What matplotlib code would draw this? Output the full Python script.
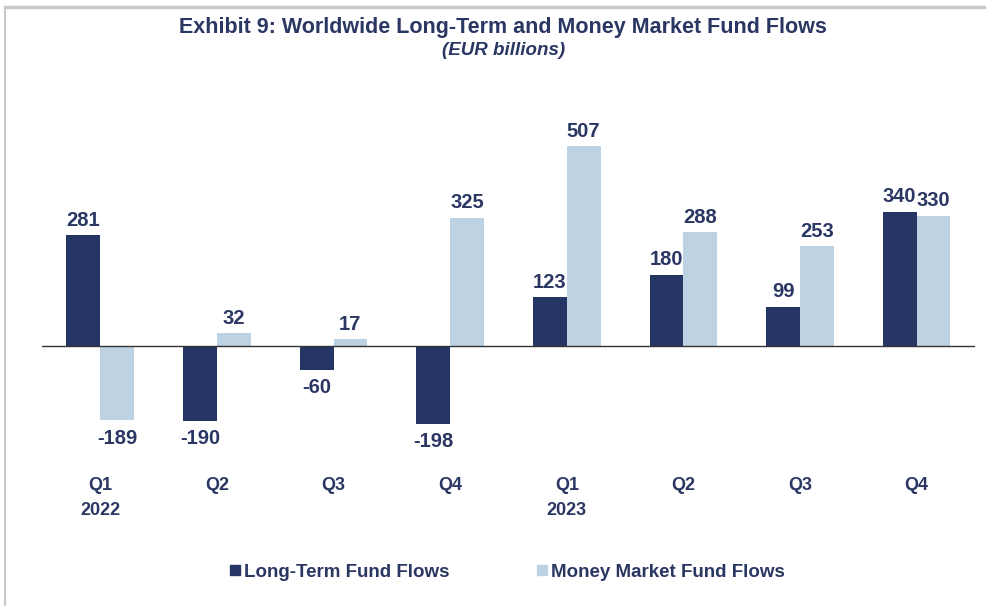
import matplotlib.pyplot as plt
import numpy as np
from matplotlib.lines import Line2D

plt.rcParams["font.family"] = ["Liberation Sans", "DejaVu Sans"]

quarters = ["Q1", "Q2", "Q3", "Q4", "Q1", "Q2", "Q3", "Q4"]
years = ["2022", "", "", "", "2023", "", "", ""]
long_term = [281, -190, -60, -198, 123, 180, 99, 340]
money_market = [-189, 32, 17, 325, 507, 288, 253, 330]

NAVY = "#263664"
LIGHT = "#bdd3e3"
TEXT = "#2b3763"

fig = plt.figure(figsize=(9.87, 6.06), dpi=100)
ax = fig.add_axes([0.0425, 0.2665, 0.9453, 0.5528])

x = np.arange(len(quarters))
w = 0.29
b1 = ax.bar(x - w / 2, long_term, w, color=NAVY, label="Long-Term Fund Flows")
b2 = ax.bar(x + w / 2, money_market, w, color=LIGHT, label="Money Market Fund Flows")

for bars, vals in [(b1, long_term), (b2, money_market)]:
    for bar, v in zip(bars, vals):
        cx = bar.get_x() + bar.get_width() / 2
        if v >= 0:
            ax.annotate(str(v), (cx, v), xytext=(0, 4), textcoords="offset points",
                        ha="center", va="bottom", fontsize=14.5, fontweight="bold", color=TEXT)
        else:
            ax.annotate(str(v), (cx, v), xytext=(0, -6), textcoords="offset points",
                        ha="center", va="top", fontsize=14.5, fontweight="bold", color=TEXT)

ax.axhline(0, color="#333333", linewidth=1)
ax.set_xlim(-0.5, 7.5)
ax.set_ylim(-250, 600)
ax.axis("off")

for i, (q, y) in enumerate(zip(quarters, years)):
    ax.text(i, -0.121, q, transform=ax.get_xaxis_transform(), ha="center", va="center",
            fontsize=13, fontweight="bold", color=TEXT)
    if y:
        ax.text(i, -0.196, y, transform=ax.get_xaxis_transform(), ha="center", va="center",
                fontsize=13, fontweight="bold", color=TEXT)

fig.text(0.51, 0.955, "Exhibit 9: Worldwide Long-Term and Money Market Fund Flows",
         ha="center", va="center", fontsize=15.5, fontweight="bold", color=TEXT)
fig.text(0.51, 0.916, "(EUR billions)", ha="center", va="center",
         fontsize=13.5, fontweight="bold", style="italic", color=TEXT)

handles = [Line2D([], [], marker="s", linestyle="", markersize=7, color=NAVY),
           Line2D([], [], marker="s", linestyle="", markersize=7, color=LIGHT)]
fig.legend(handles, ["Long-Term Fund Flows", "Money Market Fund Flows"],
           loc="center", bbox_to_anchor=(0.513, 0.056), ncol=2, frameon=False,
           handletextpad=0.1, columnspacing=4.5, handlelength=0.8,
           prop={"size": 13.5, "weight": "bold"}, labelcolor=TEXT)

# light grey frame on the top and left edges
fig.add_artist(Line2D([0.005, 1.0], [0.988, 0.988], color="#c8c8c8", linewidth=2.5,
                      transform=fig.transFigure))
fig.add_artist(Line2D([0.005, 0.005], [0.0, 0.988], color="#c8c8c8", linewidth=1.5,
                      transform=fig.transFigure))

fig.savefig("out.png", dpi=100)
